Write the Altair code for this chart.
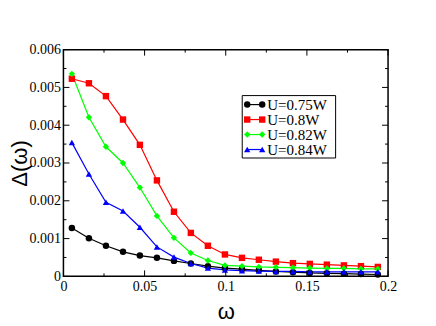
import altair as alt
import pandas as pd

# ---- data ----
omega = [0.0052, 0.0157, 0.0262, 0.0367, 0.0471, 0.0576, 0.0681, 0.0785, 0.0890, 0.0995,
         0.1100, 0.1204, 0.1309, 0.1414, 0.1518, 0.1623, 0.1728, 0.1833, 0.1937]
series_names = ["U=0.75W", "U=0.8W", "U=0.82W", "U=0.84W"]
delta_075 = [0.00128, 0.00101, 0.00081, 0.00065, 0.00055, 0.00049, 0.00041, 0.00034, 0.00027, 0.00022,
             0.00019, 0.00016, 0.00013, 0.00011, 0.00009, 0.00008, 0.00007, 0.00006, 0.00005]
delta_080 = [0.00523, 0.00511, 0.00477, 0.00415, 0.00348, 0.00254, 0.00171, 0.00115, 0.00081, 0.00058,
             0.00049, 0.00044, 0.00039, 0.00035, 0.00033, 0.00031, 0.00029, 0.00027, 0.00025]
delta_082 = [0.00536, 0.00421, 0.00343, 0.00300, 0.00235, 0.00160, 0.00102, 0.00062, 0.00042, 0.00029,
             0.00027, 0.00025, 0.00024, 0.00023, 0.00022, 0.00021, 0.00021, 0.00020, 0.00020]
delta_084 = [0.00354, 0.00271, 0.00196, 0.00173, 0.00130, 0.00078, 0.00051, 0.00034, 0.00022, 0.00017,
             0.00015, 0.00014, 0.00013, 0.00013, 0.00012, 0.00012, 0.00012, 0.00012, 0.00012]
x_major = [0, 0.05, 0.1, 0.15, 0.2]
x_minor = [0.025, 0.075, 0.125, 0.175]
y_major = [0, 0.001, 0.002, 0.003, 0.004, 0.005, 0.006]
y_minor = [0.0005, 0.0015, 0.0025, 0.0035, 0.0045, 0.0055]

# ---- styling ----
colors = ["#000000", "#ff0000", "#00ff00", "#0000ff"]
shapes = ["circle", "square", "diamond", "triangle-up"]
sizes = [42, 40, 55, 48]
W, H = 325, 227

rows = []
for name, vals in zip(series_names, [delta_075, delta_080, delta_082, delta_084]):
    for w, d in zip(omega, vals):
        rows.append({"series": name, "omega": w, "delta": d})
df = pd.DataFrame(rows)

cs = alt.Scale(domain=series_names, range=colors)
ss = alt.Scale(domain=series_names, range=shapes)
zs = alt.Scale(domain=series_names, range=sizes)

xs = alt.Scale(domain=[0, 0.2], nice=False, zero=False)
ys = alt.Scale(domain=[0, 0.006], nice=False, zero=False)

x_axis = alt.Axis(
    values=x_major, format="~g", title="ω", ticks=False, tickSize=0, domain=False, grid=False,
    labelFont="Liberation Serif", labelFontSize=14, labelColor="black", labelPadding=3,
    labelFlush=False, labelOverlap=False, labelBound=False,
    titleFont="Liberation Sans", titleFontSize=22, titleFontWeight="normal", titleColor="black",
    titleX=W / 2, titleY=42.5, titleBaseline="alphabetic", titleAlign="center")
y_axis = alt.Axis(
    values=y_major, format="~g", title="Δ(ω)", ticks=False, tickSize=0, domain=False, grid=False,
    labelFont="Liberation Serif", labelFontSize=14, labelColor="black", labelPadding=3,
    labelFlush=False, labelOverlap=False, labelBound=False,
    titleFont="Liberation Sans", titleFontSize=22, titleFontWeight="normal", titleColor="black",
    titleX=-44, titleY=H / 2, titleBaseline="middle", titleAlign="center", titleAngle=270)

base = alt.Chart(df)
lines = base.mark_line(strokeWidth=1.2).encode(
    x=alt.X("omega:Q", scale=xs, axis=x_axis),
    y=alt.Y("delta:Q", scale=ys, axis=y_axis),
    color=alt.Color("series:N", scale=cs, legend=None),
    order=alt.Order("omega:Q"))
points = base.mark_point(filled=True, opacity=1).encode(
    x=alt.X("omega:Q", scale=xs, axis=x_axis),
    y=alt.Y("delta:Q", scale=ys, axis=y_axis),
    color=alt.Color("series:N", scale=cs, legend=None),
    shape=alt.Shape("series:N", scale=ss, legend=None),
    size=alt.Size("series:N", scale=zs, legend=None))

# ---- inside ticks on all four sides ----
def xticks(vals, length):
    d = pd.DataFrame({"v": vals})
    bot = alt.Chart(d).mark_rule(color="black", strokeWidth=1).encode(
        x=alt.X("v:Q", scale=xs, axis=x_axis), y=alt.value(H), y2=alt.value(H - length))
    top = alt.Chart(d).mark_rule(color="black", strokeWidth=1).encode(
        x=alt.X("v:Q", scale=xs, axis=x_axis), y=alt.value(0), y2=alt.value(length))
    return [bot, top]

def yticks(vals, length):
    d = pd.DataFrame({"v": vals})
    left = alt.Chart(d).mark_rule(color="black", strokeWidth=1).encode(
        y=alt.Y("v:Q", scale=ys, axis=y_axis), x=alt.value(0), x2=alt.value(length))
    right = alt.Chart(d).mark_rule(color="black", strokeWidth=1).encode(
        y=alt.Y("v:Q", scale=ys, axis=y_axis), x=alt.value(W), x2=alt.value(W - length))
    return [left, right]

tick_layers = xticks(x_major, 6) + xticks(x_minor, 3) + yticks(y_major, 6) + yticks(y_minor, 3)

# ---- hand-built legend ----
leg_df = pd.DataFrame({"series": series_names, "i": list(range(len(series_names)))})
leg = alt.Chart(leg_df).transform_calculate(ly="55 + datum.i * 15")
leg_box = alt.Chart(pd.DataFrame({"a": [0]})).mark_rect(
    fill="white", stroke="black", strokeWidth=1).encode(
    x=alt.value(179), x2=alt.value(272.5), y=alt.value(46), y2=alt.value(108.5))
leg_line = leg.mark_rule(strokeWidth=1.2).encode(
    x=alt.value(184), x2=alt.value(199),
    y=alt.Y("ly:Q", scale=None),
    color=alt.Color("series:N", scale=cs, legend=None))
leg_pts = []
for lx in (184, 199):
    leg_pts.append(leg.mark_point(filled=True, opacity=1).encode(
        x=alt.value(lx), y=alt.Y("ly:Q", scale=None),
        color=alt.Color("series:N", scale=cs, legend=None),
        shape=alt.Shape("series:N", scale=ss, legend=None),
        size=alt.Size("series:N", scale=zs, legend=None)))
leg_txt = leg.mark_text(align="left", baseline="middle", font="Liberation Serif",
                        fontSize=15, color="black").encode(
    x=alt.value(204), y=alt.Y("ly:Q", scale=None), text="series:N")

chart = alt.layer(
    lines, points, *tick_layers, leg_box, leg_line, *leg_pts, leg_txt
).properties(
    width=W, height=H,
    padding={"left": 55.5, "top": 41.5, "right": 40, "bottom": 47},
    autosize=alt.AutoSizeParams(type="none"),
    background="white",
).configure_view(stroke="black", strokeWidth=1.5
).configure_axis(labelFont="Liberation Serif", labelFontSize=14, labelColor="black",
                 titleFont="Liberation Sans", titleFontSize=22, titleFontWeight="normal")

chart.save("out.html", embed_options={"renderer": "svg", "actions": False})
